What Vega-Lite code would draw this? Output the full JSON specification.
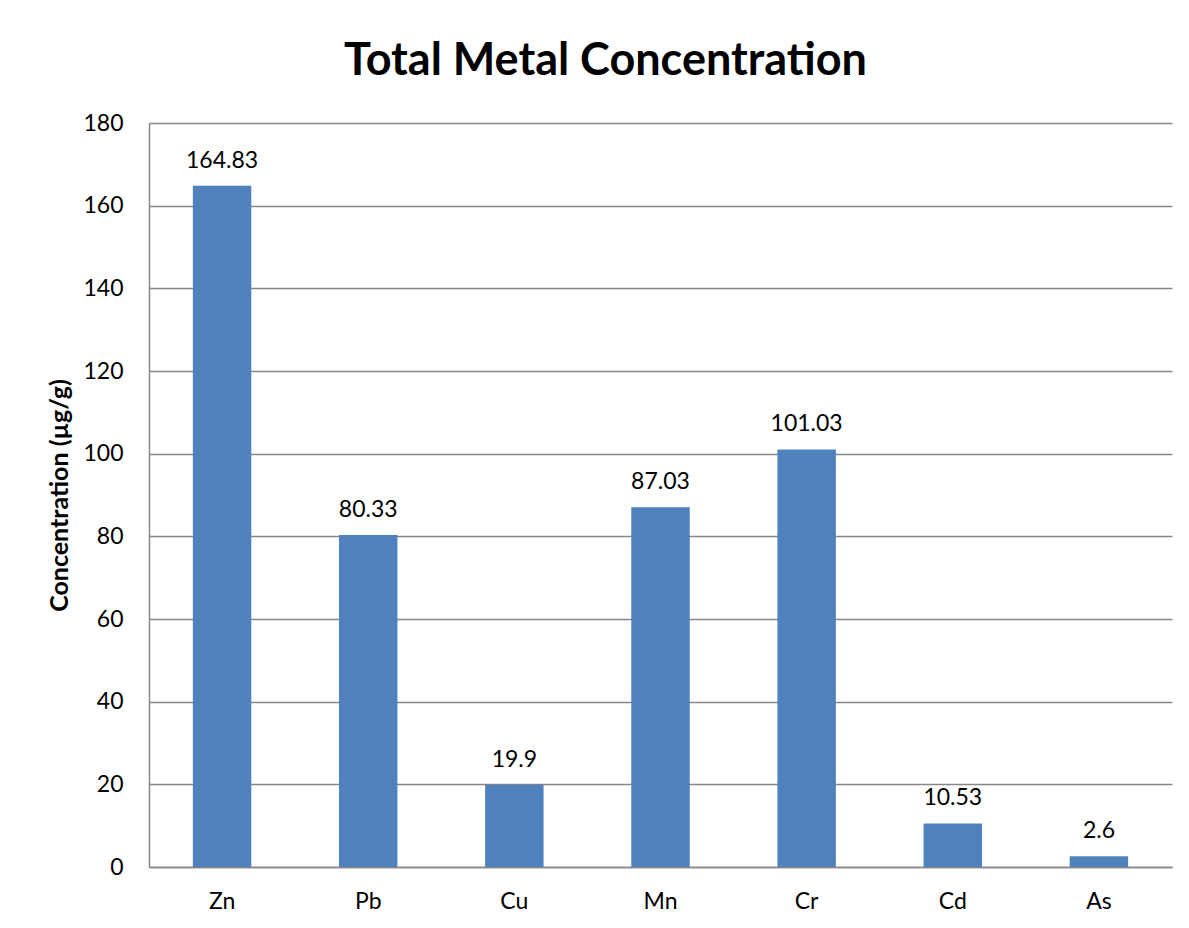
{
  "$schema": "https://vega.github.io/schema/vega-lite/v6.json",
  "width": 1023,
  "height": 744,
  "autosize": {"type": "none"},
  "padding": {"left": 149, "top": 123, "right": 17, "bottom": 61},
  "background": "white",
  "title": {
    "text": "Total Metal Concentration",
    "font": "Lato",
    "fontSize": 45,
    "fontWeight": "bold",
    "color": "black",
    "anchor": "middle",
    "dx": -55,
    "offset": -8,
    "baseline": "alphabetic"
  },
  "data": {
    "values": [
      {"metal": "Zn", "value": 164.83},
      {"metal": "Pb", "value": 80.33},
      {"metal": "Cu", "value": 19.9},
      {"metal": "Mn", "value": 87.03},
      {"metal": "Cr", "value": 101.03},
      {"metal": "Cd", "value": 10.53},
      {"metal": "As", "value": 2.6}
    ]
  },
  "encoding": {
    "x": {
      "field": "metal",
      "type": "nominal",
      "sort": null,
      "scale": {"paddingInner": 0.6, "paddingOuter": 0.3},
      "axis": {
        "title": null,
        "labelAngle": 0,
        "labelFont": "Lato",
        "labelFontSize": 23,
        "labelColor": "black",
        "labelPadding": 23,
        "ticks": false,
        "domainColor": "#878787",
        "domainWidth": 1.5,
        "grid": false
      }
    },
    "y": {
      "field": "value",
      "type": "quantitative",
      "scale": {"domain": [0, 180], "nice": false},
      "axis": {
        "title": "Concentration (µg/g)",
        "titleFont": "Lato",
        "titleFontSize": 25,
        "titleFontWeight": "bold",
        "titleColor": "black",
        "titlePadding": 10,
        "values": [0, 20, 40, 60, 80, 100, 120, 140, 160, 180],
        "labelFont": "Lato",
        "labelFontSize": 23,
        "labelColor": "black",
        "labelPadding": 26,
        "ticks": false,
        "domainColor": "#878787",
        "domainWidth": 1.5,
        "gridColor": "#878787",
        "gridWidth": 1.3
      }
    }
  },
  "layer": [
    {"mark": {"type": "bar", "color": "#4F81BD"}},
    {
      "mark": {
        "type": "text",
        "font": "Lato",
        "fontSize": 23,
        "color": "black",
        "baseline": "alphabetic",
        "dy": -18
      },
      "encoding": {"text": {"field": "value", "type": "quantitative"}}
    }
  ],
  "config": {"view": {"stroke": null}}
}
